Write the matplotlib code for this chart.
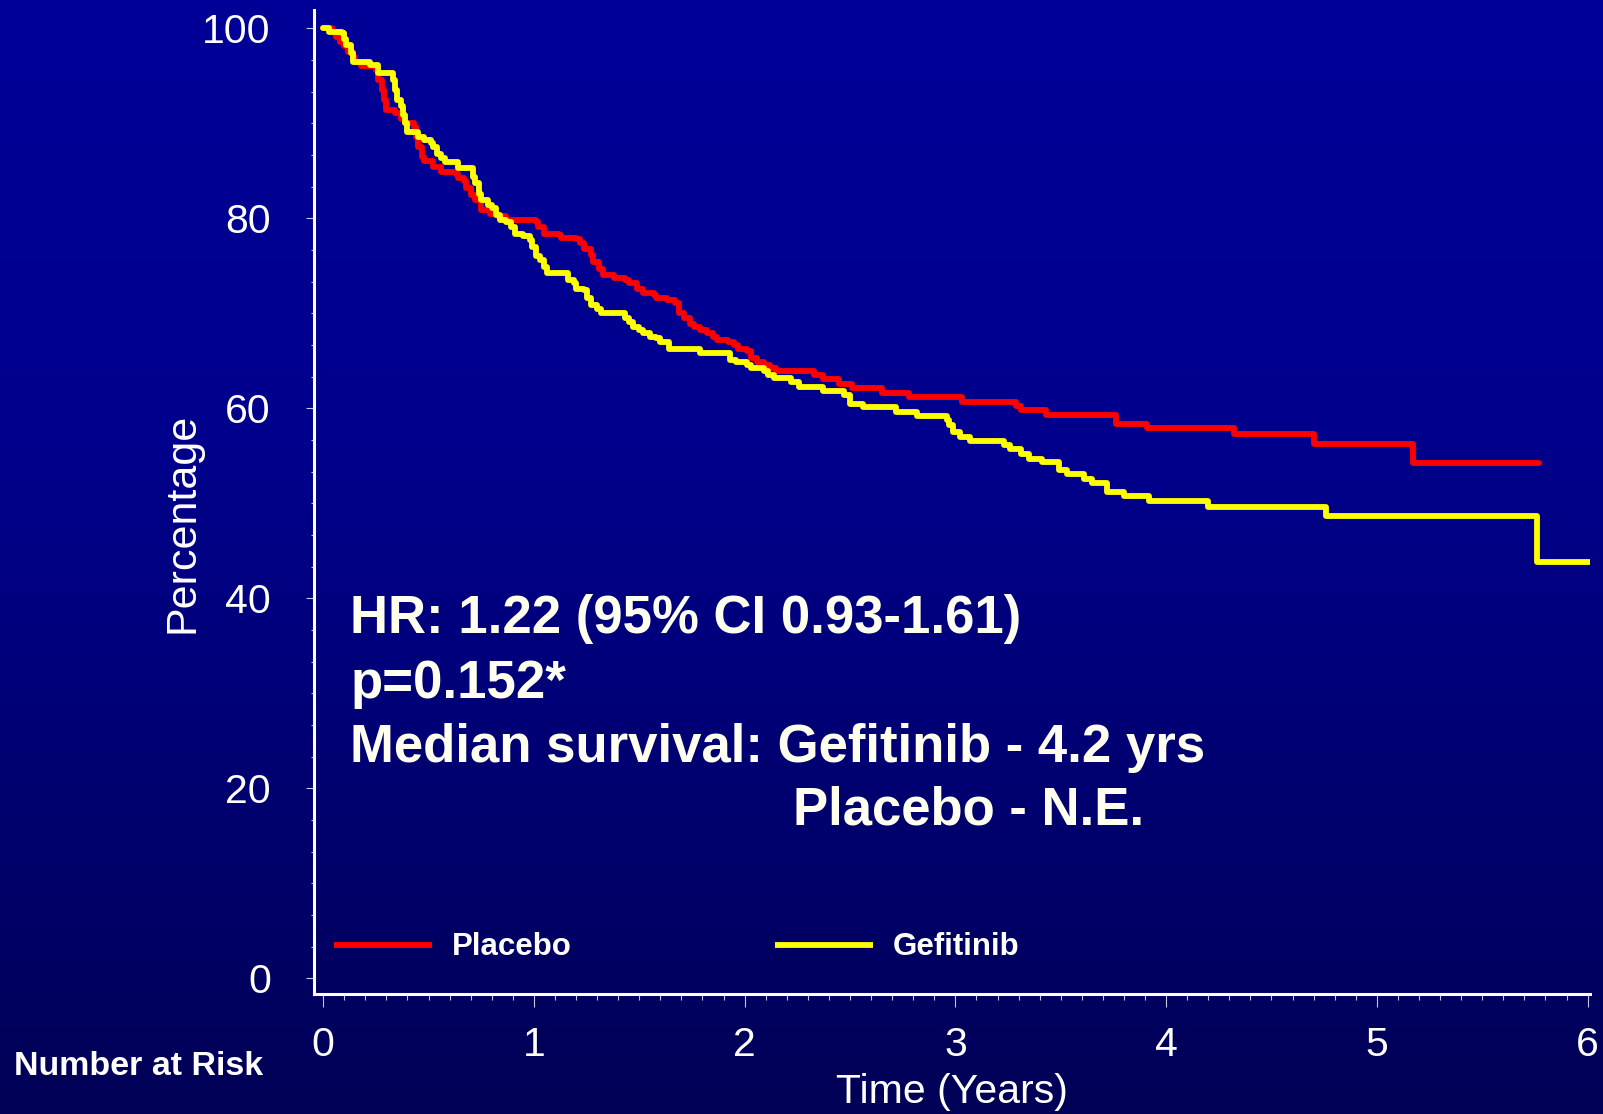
import numpy as np
import matplotlib
matplotlib.use('Agg')
import matplotlib.pyplot as plt
from matplotlib.ticker import MultipleLocator
from matplotlib.colors import LinearSegmentedColormap

plt.rcParams['font.family'] = ['Liberation Sans', 'DejaVu Sans']

# Kaplan-Meier curves (time in years, percentage)
placebo_t = [0, 0.04, 0.06, 0.08, 0.10, 0.12, 0.14, 0.15, 0.18, 0.25, 0.26, 0.28, 0.29, 0.30,
             0.34, 0.37, 0.39, 0.43, 0.44, 0.45, 0.47, 0.48, 0.52, 0.56, 0.63, 0.64, 0.67, 0.68,
             0.70, 0.72, 0.75, 0.79, 0.83, 0.87, 1.01, 1.02, 1.05, 1.12, 1.13, 1.20, 1.22, 1.24,
             1.27, 1.28, 1.31, 1.33, 1.38, 1.43, 1.45, 1.49, 1.52, 1.57, 1.58, 1.63, 1.67, 1.69,
             1.71, 1.74, 1.76, 1.79, 1.82, 1.85, 1.87, 1.92, 1.95, 1.97, 2.01, 2.03, 2.06, 2.09,
             2.12, 2.15, 2.33, 2.37, 2.45, 2.51, 2.65, 2.78, 3.03, 3.29, 3.31, 3.43, 3.76, 3.91,
             4.32, 4.70, 5.17, 5.77]
placebo_s = [100, 99.65, 99.1, 98.6, 98.1, 97.5, 97.0, 96.5, 96.0, 95.6, 94.6, 93.5, 92.5, 91.4,
             91.1, 90.5, 90.0, 89.6, 88.6, 87.5, 86.5, 86.0, 85.4, 84.9, 84.7, 84.2, 83.9, 83.2,
             82.5, 81.9, 80.9, 80.5, 80.2, 79.8, 79.6, 79.1, 78.4, 78.2, 77.9, 77.8, 77.4, 76.8,
             76.1, 75.4, 74.7, 74.0, 73.7, 73.5, 73.2, 72.6, 72.1, 71.9, 71.6, 71.4, 71.1, 70.0,
             69.5, 68.9, 68.6, 68.2, 67.9, 67.5, 67.2, 67.0, 66.7, 66.3, 66.0, 65.3, 64.9, 64.6,
             64.2, 63.9, 63.5, 63.05, 62.6, 62.1, 61.6, 61.2, 60.7, 60.2, 59.8, 59.3, 58.4, 57.9,
             57.3, 56.3, 54.2, 54.2]

gef_t = [0, 0.03, 0.09, 0.10, 0.11, 0.13, 0.14, 0.22, 0.26, 0.33, 0.34, 0.35, 0.37, 0.38, 0.39,
         0.40, 0.45, 0.48, 0.51, 0.52, 0.54, 0.56, 0.58, 0.64, 0.71, 0.72, 0.74, 0.75, 0.78, 0.80,
         0.82, 0.84, 0.87, 0.89, 0.91, 0.95, 0.98, 0.99, 1.01, 1.03, 1.05, 1.06, 1.16, 1.19, 1.20,
         1.24, 1.25, 1.27, 1.30, 1.32, 1.43, 1.45, 1.47, 1.50, 1.52, 1.55, 1.58, 1.60, 1.64, 1.79,
         1.93, 1.96, 2.01, 2.03, 2.09, 2.11, 2.14, 2.22, 2.26, 2.37, 2.47, 2.50, 2.56, 2.72, 2.82,
         2.96, 2.97, 2.99, 3.02, 3.07, 3.23, 3.26, 3.31, 3.35, 3.41, 3.49, 3.53, 3.61, 3.65, 3.72,
         3.80, 3.92, 4.20, 4.76, 5.76, 6.01]
gef_s = [100, 99.65, 99.5, 98.9, 98.2, 97.4, 96.5, 96.1, 95.3, 94.6, 93.5, 92.5, 91.8, 90.9, 90.0,
         89.1, 88.6, 88.2, 87.9, 87.5, 86.8, 86.3, 85.9, 85.3, 84.4, 83.7, 82.6, 81.9, 81.4, 81.1,
         80.4, 79.8, 79.6, 79.1, 78.4, 78.1, 77.7, 77.0, 76.0, 75.6, 74.9, 74.2, 73.5, 73.2, 72.6,
         72.5, 71.6, 70.9, 70.5, 70.0, 69.5, 69.1, 68.6, 68.2, 67.9, 67.5, 67.4, 67.0, 66.3, 65.8,
         65.1, 64.9, 64.6, 64.2, 63.9, 63.5, 63.2, 62.8, 62.3, 61.85, 61.4, 60.5, 60.1, 59.6, 59.2,
         58.8, 58.2, 57.5, 57.0, 56.6, 56.1, 55.7, 55.2, 54.7, 54.4, 53.5, 53.05, 52.55, 52.1, 51.2,
         50.8, 50.3, 49.65, 48.7, 43.85, 43.85]

x_ticks = [0, 1, 2, 3, 4, 5, 6]
y_ticks = [0, 20, 40, 60, 80, 100]

fig = plt.figure(figsize=(16.03, 11.14), dpi=100)

# blue gradient background
bg = fig.add_axes([0, 0, 1, 1], zorder=-10)
cmap = LinearSegmentedColormap.from_list('slide', [(0, '#000098'), (0.4, '#00008c'), (1.0, '#000056')])
grad = np.linspace(0, 1, 256).reshape(-1, 1)
bg.imshow(grad, aspect='auto', cmap=cmap, extent=[0, 1, 0, 1])
bg.axis('off')

ax = fig.add_axes([0.1958, 0.108, 0.7959, 0.8828])
ax.set_facecolor('none')

ax.plot(placebo_t, placebo_s, drawstyle='steps-post', color='#ff0000', lw=4.2,
        solid_capstyle='round', label='Placebo')
ax.plot(gef_t, gef_s, drawstyle='steps-post', color='#ffff00', lw=4.2,
        solid_capstyle='round', label='Gefitinib')

ax.set_xlim(-0.044, 6.01)
ax.set_ylim(-1.6, 101.9)
ax.set_xticks(x_ticks)
ax.set_yticks(y_ticks)
ax.xaxis.set_minor_locator(MultipleLocator(0.1))
ax.yaxis.set_minor_locator(MultipleLocator(20 / 6))

for s in ['top', 'right']:
    ax.spines[s].set_visible(False)
for s in ['left', 'bottom']:
    ax.spines[s].set_color('white')
    ax.spines[s].set_linewidth(2.2)

ax.tick_params(axis='x', which='major', length=9, width=0.8, color='#c8c8e0',
               labelcolor='white', labelsize=29.5, pad=14)
ax.tick_params(axis='x', which='minor', length=4, width=0.8, color='#c8c8e0')
ax.tick_params(axis='y', which='major', length=6, width=0.8, color='#c8c8e0',
               labelcolor='white', labelsize=29.5, pad=25)
ax.tick_params(axis='y', which='minor', length=2.5, width=0.8, color='#c8c8e0')

ax.set_xlabel('Time (Years)', color='white', fontsize=29.5, va='baseline')
ax.xaxis.set_label_coords(0.5, -0.1111)
ax.set_ylabel('Percentage', color='white', fontsize=31, va='baseline')
ax.yaxis.set_label_coords(-0.0947, 0.4786)

txt = dict(transform=ax.transAxes, color='#fffff0', fontsize=38, fontweight='bold', va='baseline')
ax.text(0.0284, 0.3668, 'HR: 1.22 (95% CI 0.93-1.61)', **txt)
ax.text(0.0284, 0.3005, 'p=0.152*', **txt)
ax.text(0.0284, 0.2356, 'Median survival: Gefitinib - 4.2 yrs', **txt)
ax.text(0.3757, 0.1717, 'Placebo - N.E.', **txt)

leg = ax.legend(loc='center left', bbox_to_anchor=(0.0158, 0.0470), ncol=2, frameon=False,
                fontsize=22.5, handlelength=3.15, handletextpad=0.62, columnspacing=6.5,
                borderpad=0, borderaxespad=0)
for t in leg.get_texts():
    t.set_color('white')
    t.set_fontweight('bold')
for h in leg.get_lines():
    h.set_linewidth(4.2)
    h.set_solid_capstyle('butt')

fig.text(0.0087, 0.035, 'Number at Risk', color='white', fontsize=24.5, fontweight='bold',
         va='baseline')

fig.savefig('out.png', dpi=100)
